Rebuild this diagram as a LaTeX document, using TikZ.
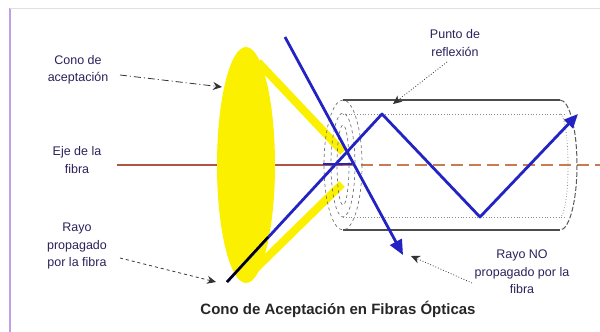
\documentclass[tikz,border=0pt]{standalone}
\usepackage{fontspec}
\setmainfont{Liberation Sans}
\usetikzlibrary{arrows.meta}
\definecolor{lensyellow}{RGB}{250,240,0}
\definecolor{rayblue}{RGB}{35,35,195}
\definecolor{labelink}{RGB}{45,32,90}
\definecolor{axissolid}{RGB}{175,85,65}
\definecolor{axisdash}{RGB}{200,125,80}
\definecolor{framelav}{RGB}{190,160,230}
\tikzset{
  lbl/.style={text=labelink, align=center, font=\fontsize{12.5}{17.5}\selectfont, inner sep=0pt},
  pointer/.style={black!80, line width=0.8pt, -{Stealth[length=9pt,width=8pt]}},
  ray/.style={rayblue, line width=2.8pt, line join=round},
  beam/.style={lensyellow, line width=8pt},
  cladding/.style={black!70, line width=2.2pt},
  coreline/.style={black!45, line width=0.8pt, dotted},
  endring/.style={black!55, line width=0.7pt, dashed}
}
\begin{document}
\begin{tikzpicture}[x=1pt, y=-1pt]
\useasboundingbox (0,0) rectangle (600,332);
% frame edges
\draw[framelav, line width=1.2pt] (10,8) -- (10,332);
\draw[black!12, line width=1pt] (10,8) -- (600,8);

% axis of the fibre
\coordinate (axL) at (117,165);
\coordinate (axM) at (343,165);
\coordinate (axR) at (600,165);
\draw[axissolid, line width=1.2pt] (axL) -- (axM);
\draw[axisdash, line width=1.2pt, dash pattern=on 12pt off 6pt] (axM) -- (axR);

% acceptance cone: lens and yellow edges
\fill[lensyellow] (246,165) ellipse [x radius=29, y radius=118];
\coordinate (bt1) at (258,62);
\coordinate (bt2) at (343,152);
\coordinate (bb1) at (248,276);
\coordinate (bb2) at (342,184);
\draw[beam] (bt1) -- (bt2);
\draw[beam] (bb1) -- (bb2);

% fibre: cladding, core and end faces
\coordinate (ctl) at (343,100);
\coordinate (ctr) at (560,100);
\coordinate (cbl) at (343,230);
\coordinate (cbr) at (560,230);
\draw[cladding] (ctl) -- (ctr);
\draw[cladding] (cbl) -- (cbr);
\draw[coreline] (343,114) -- (566,114);
\draw[coreline] (343,217) -- (566,217);
\draw[endring] (343,165) ellipse [x radius=19, y radius=65];
\draw[endring] (343,165) ellipse [x radius=12, y radius=52];
\draw[endring] (343,165) ellipse [x radius=6, y radius=40];
\draw[black!65, line width=1pt, dash pattern=on 5pt off 2pt] (ctr) arc [start angle=-90, end angle=90, x radius=17, y radius=65];
\draw[black!45, line width=0.8pt, dotted] (560,114) arc [start angle=-90, end angle=90, x radius=8, y radius=51.5];

% rays
\coordinate (pin) at (227,282);
\coordinate (pr1) at (382,114);
\coordinate (pr2) at (480,217);
\coordinate (pend) at (578,114);
\draw[ray, -{Triangle[length=14pt,width=12pt]}] (pin) -- (pr1) -- (pr2) -- (pend);
\draw[black, line width=2.2pt] (pin) -- (268,237);
\draw[rayblue, line width=1.6pt] (323,164) -- (352,164);
\coordinate (nin) at (285,37);
\coordinate (nend) at (403,255);
\draw[ray, -{Triangle[length=15pt,width=13pt]}] (nin) -- (nend);

% labels
\node[lbl] (cono) at (78,70) {Cono de\\aceptación};
\node[lbl] (eje) at (77,160) {Eje de la\\fibra};
\node[lbl] (punto) at (455,43) {Punto de\\reflexión};
\node[lbl] (rayo) at (77,246) {Rayo\\propagado\\por la fibra};
\node[lbl] (rayono) at (522,272) {Rayo NO\\propagado por la\\fibra};
\node[font=\bfseries\fontsize{15}{17}\selectfont, text=black!85] (title) at (338,309) {Cono de Aceptación en Fibras Ópticas};

% pointers
\coordinate (conotip) at (222,87);
\coordinate (puntotip) at (393,104);
\coordinate (rayotip) at (216,282);
\coordinate (rayonotip) at (411,256);
\draw[pointer, dash pattern=on 7pt off 3pt on 1pt off 3pt] (120,75) -- (conotip);
\draw[pointer, dotted] (447,62) -- (puntotip);
\draw[pointer, dashed] (120,258) -- (rayotip);
\draw[pointer, dotted] (472,283) -- (rayonotip);
\end{tikzpicture}
\end{document}
